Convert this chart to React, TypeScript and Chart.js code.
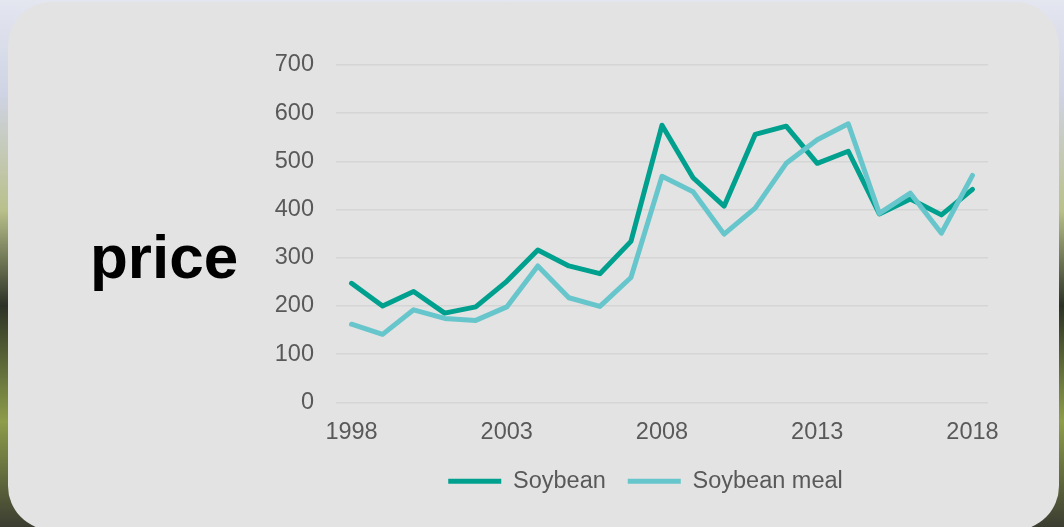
import React, { useEffect, useRef } from "react";
import { Chart, registerables } from "chart.js";

Chart.register(...registerables);

const years = [
  "1998", "1999", "2000", "2001", "2002", "2003", "2004", "2005", "2006", "2007",
  "2008", "2009", "2010", "2011", "2012", "2013", "2014", "2015", "2016", "2017", "2018",
];
const soybean = [247, 200, 230, 185, 198, 251, 316, 283, 267, 334, 575, 466, 407, 556, 573, 496, 521, 391, 422, 389, 442];
const soybeanMeal = [162, 141, 192, 174, 170, 198, 283, 217, 199, 259, 469, 437, 349, 403, 496, 545, 578, 392, 434, 351, 471];
const seriesNames = ["Soybean", "Soybean meal"];
const yTicks = { min: 0, max: 700, step: 100 };

const FONT = "'Liberation Sans', Arial, sans-serif";

const legendShift = {
  id: "legendShift",
  afterLayout(chart: any) {
    const l = chart.legend;
    if (!l) return;
    const dx = 15.5;
    const dy = -15;
    l.left += dx;
    l.right += dx;
    l.top += dy;
    l.bottom += dy;
  },
};

export default function App() {
  const ref = useRef<HTMLCanvasElement | null>(null);

  useEffect(() => {
    if (!ref.current) return;
    const chart = new Chart(ref.current, {
      type: "line",
      data: {
        labels: years,
        datasets: [
          {
            label: seriesNames[0],
            data: soybean,
            borderColor: "#00A08F",
            backgroundColor: "#00A08F",
            borderWidth: 5,
            pointRadius: 0,
            borderCapStyle: "round",
            borderJoinStyle: "round",
            tension: 0,
            order: 1,
          },
          {
            label: seriesNames[1],
            data: soybeanMeal,
            borderColor: "#67C6CB",
            backgroundColor: "#67C6CB",
            borderWidth: 5,
            pointRadius: 0,
            borderCapStyle: "round",
            borderJoinStyle: "round",
            tension: 0,
            order: 0,
          },
        ],
      },
      plugins: [legendShift],
      options: {
        responsive: false,
        animation: false,
        layout: { padding: { left: 272, right: 76, top: 65, bottom: 9 } },
        plugins: {
          tooltip: { enabled: false },
          legend: {
            position: "bottom",
            labels: {
              usePointStyle: true,
              pointStyle: "line",
              pointStyleWidth: 53,
              padding: 22,
              color: "#595959",
              font: { family: FONT, size: 23.5 },
              sort: (a: any, b: any) => a.datasetIndex - b.datasetIndex,
            },
          },
        },
        scales: {
          x: {
            type: "category",
            offset: true,
            grid: { display: false, drawTicks: false },
            border: { display: false },
            ticks: {
              autoSkip: false,
              maxRotation: 0,
              padding: 16,
              color: "#595959",
              font: { family: FONT, size: 23.5 },
              callback: (_v: any, i: number) => (i % 5 === 0 ? years[i] : ""),
            },
          },
          y: {
            min: yTicks.min,
            max: yTicks.max,
            afterFit: (scale: any) => {
              scale.width = 64;
            },
            grid: { color: "#D5D5D5", lineWidth: 1.5, drawTicks: false },
            border: { display: false },
            ticks: {
              stepSize: yTicks.step,
              padding: 22,
              color: "#595959",
              font: { family: FONT, size: 23.5 },
            },
          },
        },
      },
    });
    return () => chart.destroy();
  }, []);

  return (
    <div
      style={{
        position: "absolute",
        left: 0,
        top: 0,
        width: 1064,
        height: 527,
        overflow: "hidden",
        background:
          "linear-gradient(to bottom, #e4e6f0 0%, #cfd3e3 18%, #b9c08a 40%, #2c3326 58%, #8d9d4a 80%, #3b3d31 100%)",
      }}
    >
      <div
        style={{
          position: "absolute",
          left: 8,
          top: 2,
          width: 1051,
          height: 528,
          borderRadius: 44,
          background: "#E3E3E3",
        }}
      />
      <div
        style={{
          position: "absolute",
          left: 90,
          top: 226,
          fontFamily: FONT,
          fontWeight: "bold",
          fontSize: 62,
          lineHeight: 1,
          color: "#000",
        }}
      >
        price
      </div>
      <canvas
        ref={ref}
        width={1064}
        height={527}
        style={{ position: "absolute", left: 0, top: 0, width: 1064, height: 527 }}
      />
    </div>
  );
}
